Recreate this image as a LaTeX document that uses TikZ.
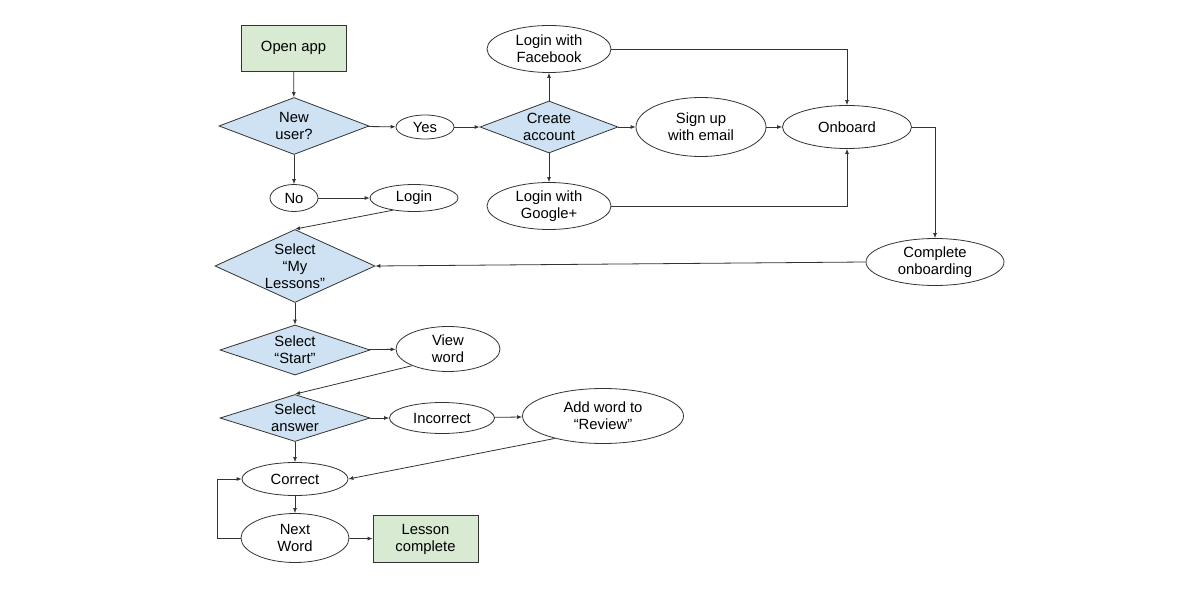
\documentclass[tikz,border=0pt]{standalone}
\usepackage{fontspec}
\setmainfont{Liberation Sans}
\usetikzlibrary{shapes.geometric, arrows.meta}
\definecolor{choiceblue}{HTML}{CFE2F3}
\definecolor{termgreen}{HTML}{D9EAD3}
\tikzset{
  term/.style={
    rectangle,
    align=center,
    inner sep=0pt,
    line width=0.8pt,
    draw=black!80,
    fill=termgreen
  },
  choice/.style={
    diamond,
    align=center,
    inner sep=0pt,
    line width=0.8pt,
    draw=black!80,
    fill=choiceblue
  },
  oval/.style={
    ellipse,
    align=center,
    inner sep=0pt,
    line width=0.8pt,
    draw=black!80,
    fill=white
  },
  arrow/.style={line width=0.8pt, draw=black!80, -{Latex[length=5pt,width=4pt]}}
}

\begin{document}
\begin{tikzpicture}[x=1pt, y=-1pt, font=\fontsize{14.8}{17}\selectfont]
  \useasboundingbox (0,0) rectangle (1200,596);

  \node (open) [term, minimum width=105pt, minimum height=46pt] at (293.5,48) {Open app};
  \node (newuser) [choice, minimum width=150pt, minimum height=57pt, aspect=2.6] at (294,126) {New\\user?};
  \node (yes) [oval, minimum width=58pt, minimum height=24pt] at (425,127) {Yes};
  \node (create) [choice, minimum width=138pt, minimum height=52pt, aspect=2.65] at (549,127) {Create\\account};
  \node (facebook) [oval, minimum width=124pt, minimum height=47pt] at (549,49) {Login with\\Facebook};
  \node (email) [oval, minimum width=130pt, minimum height=59pt] at (701,127) {Sign up\\with email};
  \node (google) [oval, minimum width=124pt, minimum height=47pt] at (549,206) {Login with\\Google+};
  \node (onboard) [oval, minimum width=129pt, minimum height=43pt] at (847,127) {Onboard};
  \node (complete) [oval, minimum width=138pt, minimum height=47pt] at (935,262) {Complete\\onboarding};
  \node (no) [oval, minimum width=48pt, minimum height=27pt] at (294,198) {No};
  \node (login) [oval, minimum width=88pt, minimum height=27pt] at (414,198) {Login};
  \node (lessons) [choice, minimum width=160pt, minimum height=73pt, aspect=2.19] at (295,266) {Select\\“My\\Lessons”};
  \node (start) [choice, minimum width=150pt, minimum height=50pt, aspect=3] at (295,350) {Select\\“Start”};
  \node (view) [oval, minimum width=104pt, minimum height=45pt] at (448,349) {View\\word};
  \node (answer) [choice, minimum width=150pt, minimum height=47pt, aspect=3.19] at (295,418) {Select\\answer};
  \node (incorrect) [oval, minimum width=105pt, minimum height=31pt] at (442,418) {Incorrect};
  \node (review) [oval, minimum width=161pt, minimum height=55pt] at (603,416) {Add word to\\“Review”};
  \node (correct) [oval, minimum width=106pt, minimum height=33pt] at (295,479) {Correct};
  \node (next) [oval, minimum width=108pt, minimum height=49pt] at (295,538) {Next\\Word};
  \node (done) [term, minimum width=105pt, minimum height=47pt] at (425.5,539) {Lesson\\complete};

  \draw[arrow] (open) -- (newuser);
  \draw[arrow] (newuser) -- (yes);
  \draw[arrow] (yes) -- (create);
  \draw[arrow] (create) -- (facebook);
  \draw[arrow] (create) -- (google);
  \draw[arrow] (create) -- (email);
  \draw[arrow] (email) -- (onboard);
  \draw[arrow] (facebook.east) -| (onboard.north);
  \draw[arrow] (google.east) -| (onboard.south);
  \draw[arrow] (onboard.east) -| (complete.north);
  \draw[arrow] (complete.west) -- (lessons.east);
  \draw[arrow] (newuser) -- (no);
  \draw[arrow] (no) -- (login);
  \draw[arrow] (login.210) -- (lessons.north);
  \draw[arrow] (lessons) -- (start);
  \draw[arrow] (start) -- (view);
  \draw[arrow] (view.205) -- (answer.north);
  \draw[arrow] (answer) -- (incorrect);
  \draw[arrow] (incorrect) -- (review);
  \draw[arrow] (review.205) -- (correct.east);
  \draw[arrow] (answer) -- (correct);
  \draw[arrow] (correct) -- (next);
  \draw[arrow] (next.west) -- ++(-23,0) |- (correct.west);
  \draw[arrow] (next) -- (done);
\end{tikzpicture}
\end{document}
